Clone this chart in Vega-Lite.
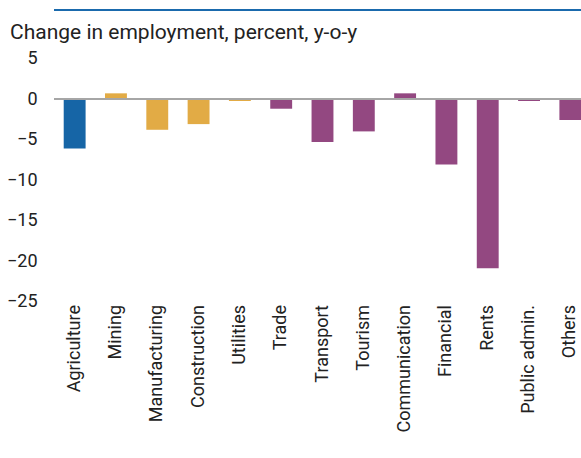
{
  "$schema": "https://vega.github.io/schema/vega-lite/v6.json",
  "width": 537,
  "height": 243,
  "autosize": {"type": "none"},
  "padding": {"left": 54, "top": 58.5, "right": 0, "bottom": 157},
  "background": "white",
  "config": {
    "view": {"stroke": null},
    "font": "Roboto"
  },
  "title": {
    "text": "Change in employment, percent, y-o-y",
    "anchor": "start",
    "frame": "group",
    "dx": -44,
    "dy": 50,
    "offset": 16,
    "fontSize": 21,
    "fontWeight": "normal",
    "color": "#222222",
    "font": "Roboto"
  },
  "data": {
    "values": [
      {"sector": "Agriculture", "value": -6.1, "group": "Agriculture"},
      {"sector": "Mining", "value": 0.7, "group": "Industry"},
      {"sector": "Manufacturing", "value": -3.8, "group": "Industry"},
      {"sector": "Construction", "value": -3.1, "group": "Industry"},
      {"sector": "Utilities", "value": -0.25, "group": "Industry"},
      {"sector": "Trade", "value": -1.2, "group": "Services"},
      {"sector": "Transport", "value": -5.3, "group": "Services"},
      {"sector": "Tourism", "value": -4.0, "group": "Services"},
      {"sector": "Communication", "value": 0.7, "group": "Services"},
      {"sector": "Financial", "value": -8.1, "group": "Services"},
      {"sector": "Rents", "value": -20.9, "group": "Services"},
      {"sector": "Public admin.", "value": -0.25, "group": "Services"},
      {"sector": "Others", "value": -2.6, "group": "Services"}
    ]
  },
  "layer": [
    {
      "mark": {"type": "bar"},
      "encoding": {
        "x": {
          "field": "sector",
          "type": "nominal",
          "sort": null,
          "scale": {"paddingInner": 0.47, "paddingOuter": 0.235},
          "axis": {
            "title": null,
            "labelAngle": -90,
            "labelFontSize": 18,
            "labelColor": "#222222",
            "labelPadding": 3,
            "ticks": false,
            "domain": false
          }
        },
        "y": {
          "field": "value",
          "type": "quantitative",
          "scale": {"domain": [-25, 5], "nice": false, "zero": false},
          "axis": {
            "title": null,
            "values": [-25, -20, -15, -10, -5, 0, 5],
            "labelFontSize": 18,
            "labelColor": "#222222",
            "labelPadding": 17,
            "ticks": false,
            "domain": false,
            "grid": false
          }
        },
        "color": {
          "field": "group",
          "type": "nominal",
          "scale": {
            "domain": ["Agriculture", "Industry", "Services"],
            "range": ["#1665a6", "#e2ab45", "#934881"]
          },
          "legend": null
        }
      }
    },
    {
      "mark": {"type": "rule", "color": "#a6a6a6", "strokeWidth": 1.5},
      "encoding": {"y": {"datum": 0}}
    },
    {
      "mark": {"type": "rule", "color": "#1a6aad", "strokeWidth": 2},
      "encoding": {"y": {"datum": 11}}
    }
  ]
}
